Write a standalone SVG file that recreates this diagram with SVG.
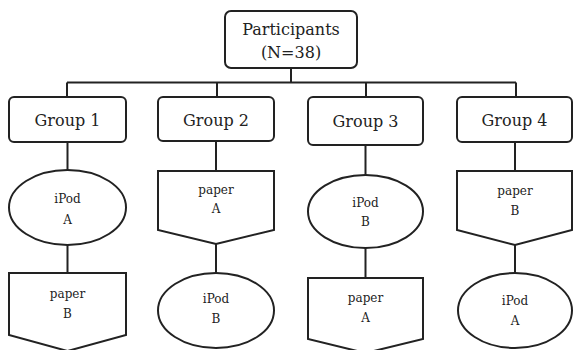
<svg xmlns="http://www.w3.org/2000/svg" width="573" height="350" viewBox="0 0 573 350">
<style>
.s{fill:#fff;stroke:#222;stroke-width:2}
.c{fill:none;stroke:#222;stroke-width:2}
text{font-family:"DejaVu Serif","Liberation Serif",serif;fill:#222;text-anchor:middle}
.b{font-size:16px}
.m{font-size:12px}
</style>
<rect width="573" height="350" fill="#fff"/>
<g id="connectors">
<path class="c" d="M291 68V82.5M67 82.5H516M67 82.5V97M217 82.5V97M366 82.5V97M516 82.5V97"/>
<path class="c" d="M67.5 142V170M67.5 245V273"/>
<path class="c" d="M216 141V171M216 244V273"/>
<path class="c" d="M365.5 145V175M365.5 248V278"/>
<path class="c" d="M515 142V171M515 245V273"/>
</g>
<g id="participants">
<rect class="s" x="225" y="11" width="132" height="57" rx="6"/>
<text class="b" x="291" y="35">Participants</text>
<text class="b" x="291" y="58">(N=38)</text>
</g>
<g id="group1">
<rect class="s" x="9" y="97" width="117" height="45" rx="5"/>
<text class="b" x="67.5" y="126">Group 1</text>
</g>
<g id="group2">
<rect class="s" x="158" y="97" width="116" height="44" rx="5"/>
<text class="b" x="216" y="126">Group 2</text>
</g>
<g id="group3">
<rect class="s" x="308" y="97" width="115" height="48" rx="5"/>
<text class="b" x="365.5" y="127">Group 3</text>
</g>
<g id="group4">
<rect class="s" x="457" y="97" width="115" height="45" rx="5"/>
<text class="b" x="514.5" y="126">Group 4</text>
</g>
<g id="g1-ipodA">
<ellipse class="s" cx="67.5" cy="207.5" rx="58.5" ry="37.5"/>
<text class="m" x="67.5" y="203">iPod</text>
<text class="m" x="67.5" y="224">A</text>
</g>
<g id="g1-paperB">
<path class="s" d="M9 273H126V335L67.5 351L9 335Z"/>
<text class="m" x="67.5" y="298">paper</text>
<text class="m" x="67.5" y="318">B</text>
</g>
<g id="g2-paperA">
<path class="s" d="M158 171H274V230L216 244L158 230Z"/>
<text class="m" x="216" y="194">paper</text>
<text class="m" x="216" y="213">A</text>
</g>
<g id="g2-ipodB">
<ellipse class="s" cx="216" cy="310.5" rx="58" ry="37.5"/>
<text class="m" x="216" y="303">iPod</text>
<text class="m" x="216" y="323">B</text>
</g>
<g id="g3-ipodB">
<ellipse class="s" cx="365.5" cy="211.5" rx="57.5" ry="36.5"/>
<text class="m" x="365.5" y="207">iPod</text>
<text class="m" x="365.5" y="226">B</text>
</g>
<g id="g3-paperA">
<path class="s" d="M308 278H423V339L365.5 353L308 339Z"/>
<text class="m" x="365.5" y="302">paper</text>
<text class="m" x="365.5" y="322">A</text>
</g>
<g id="g4-paperB">
<path class="s" d="M457 171H572V230L515 245L457 230Z"/>
<text class="m" x="515" y="195">paper</text>
<text class="m" x="515" y="215">B</text>
</g>
<g id="g4-ipodA">
<ellipse class="s" cx="515" cy="310.5" rx="57" ry="37.5"/>
<text class="m" x="515" y="305">iPod</text>
<text class="m" x="515" y="325">A</text>
</g>
</svg>
